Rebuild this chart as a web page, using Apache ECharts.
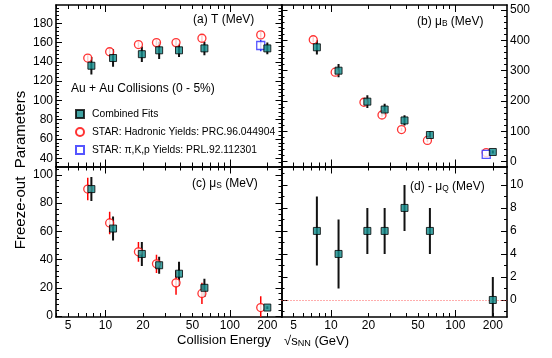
<!DOCTYPE html>
<html>
<head>
<meta charset="utf-8">
<script src="https://cdn.jsdelivr.net/npm/echarts@6/dist/echarts.min.js"></script>
<style>
  html, body { margin: 0; padding: 0; background: #fff; }
  #chart { width: 552px; height: 358px; }
</style>
</head>
<body>
<div id="chart"></div>
<script>
// beam energies (GeV); the STAR points are drawn a little to the left
const energy = [7.7, 11.5, 19.6, 27, 39, 62.4, 200];
const energyStar = [7.2, 10.8, 18.4, 25.7, 36.9, 59.6, 177];
const energyPid = [177];

// (a) T (MeV)
const tFit = [136, 144, 148, 152, 152, 154, 154];
const tFitErr = [9, 9, 8, 9, 7, 7, 6];
const tStar = [144, 150.5, 158, 160, 160, 164.5, 168];
const tStarErr = [3, 3, 3, 3, 3, 3, 3];
const tPid = [157];
const tPidErr = [6];

// (b) muB (MeV)
const muBFit = [377, 300, 198, 172, 136, 88, 32];
const muBFitErr = [24, 22, 21, 19, 17, 12, 5];
const muBStar = [402, 295, 196, 154, 106, 70, 30];
const muBStarErr = [8, 8, 6, 6, 6, 6, 3];
const muBPid = [24];
const muBPidErr = [4];

// (c) muS (MeV)
const muSFit = [90, 62, 44, 36, 30, 20, 6];
const muSFitErr = [8.5, 8.5, 8.5, 6, 8.5, 6.5, 1];
const muSStar = [90, 66, 45.5, 37, 23.5, 16, 6];
const muSStarErr = [8, 8, 7, 6.5, 8.5, 7.5, 8];

// (d) -muQ (MeV)
const muQFit = [6, 4, 6, 6, 8, 6, 0];
const muQFitErr = [3, 3, 2, 2, 2, 2, 2];

// axis ticks
const xMin = 4, xMax = 260;
const xLabels = [5, 10, 20, 50, 100, 200];
const xMajor = [10, 100];
const xMinor = [4, 5, 6, 7, 8, 9, 20, 30, 40, 50, 60, 70, 80, 90, 200];
const tTicks = [40, 60, 80, 100, 120, 140, 160, 180];
const muBTicks = [0, 100, 200, 300, 400, 500];
const muSTicks = [0, 20, 40, 60, 80, 100];
const muQTicks = [0, 2, 4, 6, 8, 10];

const FONT = '"Liberation Sans", Arial, Helvetica, sans-serif';
const NAME_FIT = 'Combined Fits';
const NAME_STAR = 'STAR: Hadronic Yields: PRC.96.044904';
const NAME_PID = 'STAR: \u03c0,K,p Yields: PRL.92.112301';

const panels = [
  { grid: { left: 56, top: 5, width: 225.5, height: 161.5 }, y: [31.5, 199], ticks: tTicks, minor: 4, side: 'left', xLabels: false },
  { grid: { left: 281.5, top: 5, width: 225.5, height: 161.5 }, y: [-15.8, 516.5], ticks: muBTicks, minor: 20, side: 'right', xLabels: false },
  { grid: { left: 56, top: 166.5, width: 225.5, height: 150.5 }, y: [-0.7, 106], ticks: muSTicks, minor: 4, side: 'left', xLabels: true },
  { grid: { left: 281.5, top: 166.5, width: 225.5, height: 150.5 }, y: [-1.48, 11.6], ticks: muQTicks, minor: 1, side: 'right', xLabels: true }
];

function minorValues (p) {
  const out = [];
  for (let v = Math.ceil(p.y[0] / p.minor) * p.minor; v <= p.y[1]; v += p.minor) {
    out.push(+v.toFixed(6));
  }
  return out;
}

function xAxes (g, p) {
  const lmin = Math.log10(xMin), lmax = Math.log10(xMax);
  const tick = (pos, vals, len, line, labels) => ({
    gridIndex: g, type: 'value', min: lmin, max: lmax, position: pos,
    splitLine: { show: false },
    axisLine: { show: line, onZero: false, lineStyle: { color: '#000', width: 1.6 } },
    axisTick: { show: true, inside: true, length: len, customValues: vals.map(Math.log10), lineStyle: { color: '#000', width: 1 } },
    axisLabel: labels ? {
      show: true, customValues: xLabels.map(Math.log10), margin: 3,
      formatter: v => String(Math.round(Math.pow(10, v))),
      color: '#000', fontSize: 12, fontFamily: FONT
    } : { show: false }
  });
  return [
    { gridIndex: g, type: 'log', logBase: 10, min: xMin, max: xMax, show: false },
    tick('bottom', xMajor, 7, true, p.xLabels),
    tick('bottom', xMinor, 4, false, false),
    tick('top', xMajor, 7, true, false),
    tick('top', xMinor, 4, false, false)
  ];
}

function yAxes (g, p) {
  const minor = minorValues(p);
  const ax = (pos, vals, len, line, labels) => ({
    gridIndex: g, type: 'value', min: p.y[0], max: p.y[1], position: pos,
    splitLine: { show: false },
    axisLine: { show: line, onZero: false, lineStyle: { color: '#000', width: 1.6 } },
    axisTick: { show: true, inside: true, length: len, customValues: vals, lineStyle: { color: '#000', width: 1 } },
    axisLabel: labels ? { show: true, customValues: p.ticks, margin: 3, color: '#000', fontSize: 12, fontFamily: FONT } : { show: false }
  });
  return [
    ax('left', p.ticks, 6, true, p.side === 'left'),
    ax('left', minor, 3, false, false),
    ax('right', p.ticks, 6, true, p.side === 'right'),
    ax('right', minor, 3, false, false)
  ];
}

const pts = (xs, ys) => xs.map((x, i) => [x, ys[i]]);
const bars = (xs, ys, es) => xs.map((x, i) => [x, ys[i] - es[i], ys[i] + es[i]]);

function errSeries (g, data, color, width) {
  return {
    type: 'custom', xAxisIndex: g * 5, yAxisIndex: g * 4, clip: true, silent: true, z: 2,
    encode: { x: 0, y: [1, 2] },
    renderItem (params, api) {
      const a = api.coord([api.value(0), api.value(1)]);
      const b = api.coord([api.value(0), api.value(2)]);
      return {
        type: 'line',
        shape: { x1: a[0], y1: a[1], x2: b[0], y2: b[1] },
        style: { stroke: color, lineWidth: width }
      };
    },
    data
  };
}

function fitSeries (g, ys, extra) {
  return Object.assign({
    name: NAME_FIT, type: 'scatter', xAxisIndex: g * 5, yAxisIndex: g * 4, z: 5,
    symbol: 'rect', symbolSize: 7,
    itemStyle: { color: '#128c8c', borderColor: '#000', borderWidth: 1 },
    data: pts(energy, ys)
  }, extra || {});
}

function starSeries (g, ys) {
  return {
    name: NAME_STAR, type: 'scatter', xAxisIndex: g * 5, yAxisIndex: g * 4, z: 4,
    symbol: 'circle', symbolSize: 8,
    itemStyle: { color: '#fff', borderColor: '#ff0000', borderWidth: 1.3 },
    data: pts(energyStar, ys)
  };
}

function pidSeries (g, ys) {
  return {
    name: NAME_PID, type: 'scatter', xAxisIndex: g * 5, yAxisIndex: g * 4, z: 4,
    symbol: 'rect', symbolSize: 8,
    itemStyle: { color: '#fff', borderColor: '#2a2aff', borderWidth: 1.3 },
    data: pts(energyPid, ys)
  };
}

const series = [
  // (a)
  errSeries(0, bars(energyStar, tStar, tStarErr), '#ff0000', 1.5),
  errSeries(0, bars(energyPid, tPid, tPidErr), '#2a2aff', 1.5),
  errSeries(0, bars(energy, tFit, tFitErr), '#111', 2),
  starSeries(0, tStar),
  pidSeries(0, tPid),
  fitSeries(0, tFit),
  // (b)
  errSeries(1, bars(energyStar, muBStar, muBStarErr), '#ff0000', 1.5),
  errSeries(1, bars(energyPid, muBPid, muBPidErr), '#2a2aff', 1.5),
  errSeries(1, bars(energy, muBFit, muBFitErr), '#111', 2),
  starSeries(1, muBStar),
  pidSeries(1, muBPid),
  fitSeries(1, muBFit),
  // (c)
  errSeries(2, bars(energyStar, muSStar, muSStarErr), '#ff0000', 1.5),
  errSeries(2, bars(energy, muSFit, muSFitErr), '#111', 2),
  starSeries(2, muSStar),
  fitSeries(2, muSFit),
  // (d)
  errSeries(3, bars(energy, muQFit, muQFitErr), '#111', 2),
  fitSeries(3, muQFit, {
    markLine: {
      silent: true, symbol: 'none', label: { show: false },
      lineStyle: { color: '#ff5a5a', type: [1, 2], width: 1 },
      data: [{ yAxis: 0 }]
    }
  })
];

// text with a subscript: tokens are bottom-aligned, the taller main box lifts the main text
function subLabel (x, yc, pre, sub, post, size) {
  const fs = size || 12;
  const hMain = fs * 1.2 + 9;
  return {
    type: 'text', x: x, y: yc - hMain + fs * 0.6,
    style: {
      text: '{t|' + pre + '}{s|' + sub + '}{t|' + post + '}',
      verticalAlign: 'top',
      rich: {
        t: { fontSize: fs, fontFamily: FONT, fill: '#000', lineHeight: hMain, verticalAlign: 'bottom' },
        s: { fontSize: fs * 0.7, fontFamily: FONT, fill: '#000', lineHeight: fs * 1.2, verticalAlign: 'bottom' }
      }
    }
  };
}

function plainText (x, y, text, size, align) {
  return {
    type: 'text', x: x, y: y,
    style: { text: text, fontSize: size, fontFamily: FONT, fill: '#000', align: align || 'left', verticalAlign: 'middle' }
  };
}

const chart = echarts.init(document.getElementById('chart'));
chart.setOption({
  animation: false,
  backgroundColor: '#fff',
  textStyle: { fontFamily: FONT },
  grid: panels.map(p => p.grid),
  xAxis: panels.flatMap((p, g) => xAxes(g, p)),
  yAxis: panels.flatMap((p, g) => yAxes(g, p)),
  legend: {
    orient: 'vertical', left: 70, top: 103,
    itemWidth: 8, itemHeight: 8, itemGap: 6,
    selectedMode: false,
    data: [NAME_FIT, NAME_STAR, NAME_PID],
    textStyle: { fontSize: 10.3, fontFamily: FONT, color: '#000', lineHeight: 12, padding: [0, 0, 0, 3] }
  },
  graphic: [
    plainText(193, 20, '(a) T (MeV)', 12),
    subLabel(417, 20, '(b) \u03bc', 'B', ' (MeV)'),
    subLabel(192, 182, '(c) \u03bc', 'S', ' (MeV)'),
    subLabel(410, 185, '(d) - \u03bc', 'Q', ' (MeV)'),
    plainText(71, 89, 'Au + Au Collisions (0 - 5%)', 12),
    plainText(271, 340, 'Collision Energy', 13, 'right'),
    subLabel(284, 340, '\u221as', 'NN', ' (GeV)', 13),
    {
      type: 'text', x: 21, y: 170, rotation: Math.PI / 2,
      style: { text: 'Freeze-out  Parameters', fontSize: 15, fontFamily: FONT, fill: '#000', align: 'center', verticalAlign: 'middle' }
    }
  ],
  series
});
</script>
</body>
</html>
